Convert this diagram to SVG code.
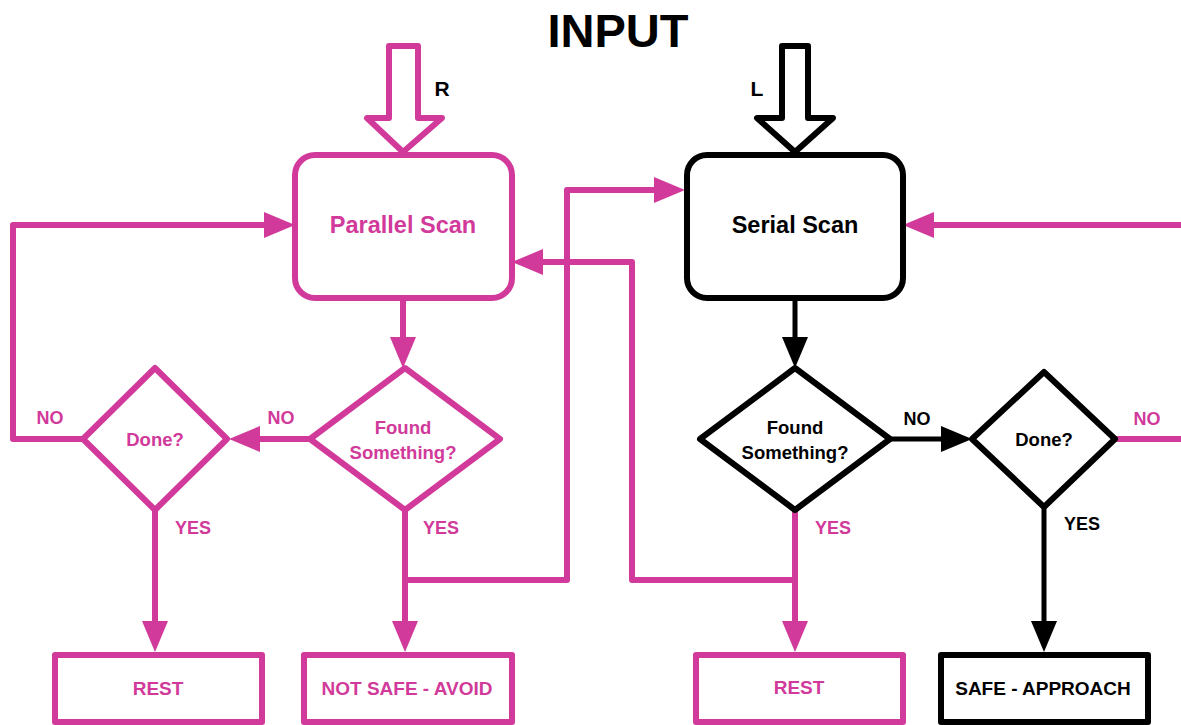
<svg xmlns="http://www.w3.org/2000/svg" width="1181" height="725" viewBox="0 0 1181 725">
<style>
text{font-family:"Liberation Sans",Arial,sans-serif;font-weight:bold;text-anchor:middle;dominant-baseline:central}
.m{fill:none;stroke:#D13A9A;stroke-width:6;stroke-linejoin:round}
.k{fill:none;stroke:#000;stroke-width:5;stroke-linejoin:round}
.mb{fill:#fff;stroke:#D13A9A;stroke-width:6;stroke-linejoin:round}
.kb{fill:#fff;stroke:#000;stroke-width:6;stroke-linejoin:round}
.tm{fill:#D13A9A}
.tk{fill:#000}
.lb{font-size:18px}
.dt{font-size:18.5px}
.bt{font-size:19px}
</style>
<defs>
<marker id="am" markerUnits="userSpaceOnUse" markerWidth="32" markerHeight="26" refX="16" refY="13" orient="auto" viewBox="0 0 32 26"><path d="M0,0 L31,13 L0,26 z" fill="#D13A9A"/></marker>
<marker id="ak" markerUnits="userSpaceOnUse" markerWidth="32" markerHeight="26" refX="16" refY="13" orient="auto" viewBox="0 0 32 26"><path d="M0,0 L31,13 L0,26 z" fill="#000"/></marker>
</defs>
<rect width="1181" height="725" fill="#fff"/>
<text x="618" y="30" font-size="47" class="tk">INPUT</text>
<g id="connectors">
<path class="m" d="M83,439 H13 V225 H280" marker-end="url(#am)"/>
<path class="m" d="M310,439 H244" marker-end="url(#am)"/>
<path class="m" d="M403,298 V353" marker-end="url(#am)"/>
<path class="m" d="M155,510 V637" marker-end="url(#am)"/>
<path class="m" d="M405,510 V637" marker-end="url(#am)"/>
<path class="m" d="M405,580 H567 V190 H670" marker-end="url(#am)"/>
<path class="m" d="M795,580 H632 V262 H527" marker-end="url(#am)"/>
<path class="m" d="M795,510 V637" marker-end="url(#am)"/>
<path class="k" d="M795,298 V353" marker-end="url(#ak)"/>
<path class="k" d="M890,439 H957" marker-end="url(#ak)"/>
<path class="m" d="M1115,439 H1181"/>
<path class="m" d="M1181,225 H918" marker-end="url(#am)"/>
<path class="k" d="M1044,507 V637" marker-end="url(#ak)"/>
<text x="50" y="418" class="lb tm">NO</text>
<text x="281" y="418" class="lb tm">NO</text>
<text x="193" y="528" class="lb tm">YES</text>
<text x="441" y="528" class="lb tm">YES</text>
<text x="833" y="528" class="lb tm">YES</text>
<text x="917" y="419" class="lb tk">NO</text>
<text x="1147" y="419" class="lb tm">NO</text>
<text x="1082" y="524" class="lb tk">YES</text>
</g>
<g id="input-r">
<polygon class="mb" points="389,46 418,46 418,118 442,118 403,152 367,118 389,118"/>
<text x="442" y="88" font-size="21" class="tk">R</text>
</g>
<g id="input-l">
<polygon class="kb" points="782,46 808,46 808,118 833,118 795,152 757,118 782,118"/>
<text x="757" y="88" font-size="21" class="tk">L</text>
</g>
<g id="parallel-scan">
<rect x="295" y="155" width="217" height="143" rx="20" class="mb"/>
<text x="403" y="225" font-size="23.5" class="tm">Parallel Scan</text>
</g>
<g id="serial-scan">
<rect x="687" y="155" width="216" height="143" rx="20" class="kb"/>
<text x="795" y="225" font-size="23.5" class="tk">Serial Scan</text>
</g>
<g id="found-left">
<polygon class="mb" points="405,368 500,439 405,510 310,439"/>
<text x="403" y="427" class="dt tm">Found</text>
<text x="403" y="452" class="dt tm">Something?</text>
</g>
<g id="done-left">
<polygon class="mb" points="155,368 227,439 155,510 83,439"/>
<text x="155" y="439" class="dt tm">Done?</text>
</g>
<g id="found-right">
<polygon class="kb" points="795,368 890,439 795,510 700,439"/>
<text x="795" y="427" class="dt tk">Found</text>
<text x="795" y="452" class="dt tk">Something?</text>
</g>
<g id="done-right">
<polygon class="kb" points="1044,372 1115,439 1044,507 972,439"/>
<text x="1044" y="439" class="dt tk">Done?</text>
</g>
<g id="rest-left">
<rect x="55" y="655" width="207" height="67" class="mb"/>
<text x="158" y="688" class="bt tm">REST</text>
</g>
<g id="not-safe">
<rect x="304" y="655" width="208" height="67" class="mb"/>
<text x="407" y="688" class="bt tm">NOT SAFE - AVOID</text>
</g>
<g id="rest-right">
<rect x="696" y="655" width="207" height="67" class="mb"/>
<text x="799" y="687" class="bt tm">REST</text>
</g>
<g id="safe">
<rect x="941" y="655" width="207" height="67" class="kb"/>
<text x="1043" y="688" class="bt tk">SAFE - APPROACH</text>
</g>
</svg>
